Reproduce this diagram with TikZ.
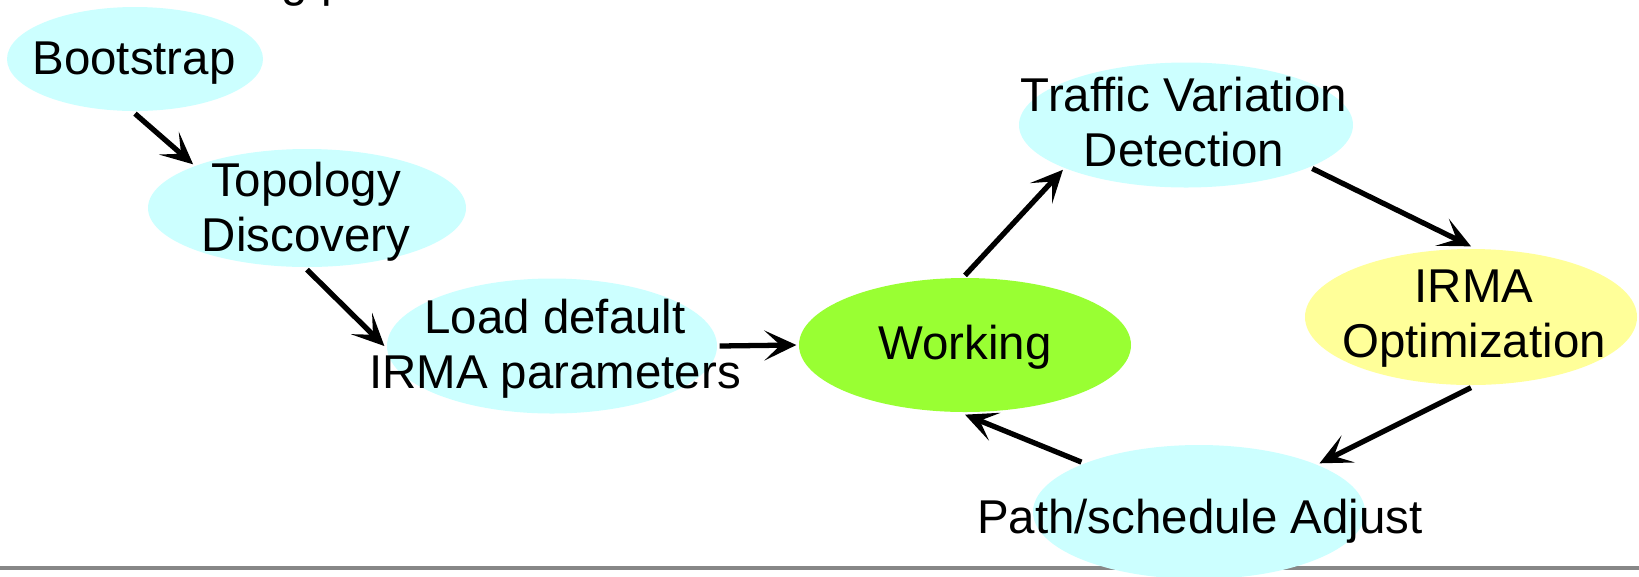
\documentclass[tikz,border=0pt]{standalone}
\usepackage{fontspec}
\setmainfont{Liberation Sans}
\usetikzlibrary{shapes,arrows.meta}
\definecolor{stcyan}{HTML}{CCFFFF}
\definecolor{stgreen}{HTML}{99FF33}
\definecolor{styellow}{HTML}{FFFF99}

\begin{document}
\begin{tikzpicture}[-, >={Stealth[length=3.2mm,width=3.0mm,inset=1.6mm]}, line width=1.5pt,
  blob/.style={ellipse, inner sep=0pt, fill=stcyan},
  txt/.style={align=center, inner sep=0pt, font=\fontsize{13.5}{15.7}\selectfont}]
\clip (0,0) rectangle (16.39,5.76);
\fill[white] (0,0) rectangle (16.39,5.76);
\draw[line width=0.045cm, color=black!47] (0,0.08) -- (16.39,0.08);
\node[txt, anchor=base west] (title) at (2.79,5.80) {g p};
% the states
\node[blob, minimum width=2.56cm, minimum height=1.04cm] (boot) at (1.35,5.17) {};
\node[blob, minimum width=3.18cm, minimum height=1.18cm] (topo) at (3.07,3.68) {};
\node[blob, minimum width=3.30cm, minimum height=1.35cm] (load) at (5.52,2.30) {};
\node[blob, minimum width=3.32cm, minimum height=1.34cm, fill=stgreen] (work) at (9.65,2.31) {};
\node[blob, minimum width=3.34cm, minimum height=1.25cm] (traf) at (11.86,4.51) {};
\node[blob, minimum width=3.32cm, minimum height=1.36cm, fill=styellow] (opt) at (14.71,2.59) {};
\node[blob, minimum width=3.32cm, minimum height=1.34cm] (adjust) at (11.99,0.64) {};
% their texts
\node[txt] (boottxt) at (1.34,5.13) {Bootstrap};
\node[txt] (topotxt) at (3.06,3.64) {Topology\\Discovery};
\node[txt] (loadtxt) at (5.55,2.27) {Load default\\IRMA parameters};
\node[txt] (worktxt) at (9.65,2.29) {Working};
\node[txt] (traftxt) at (11.84,4.54) {Traffic Variation\\Detection};
\node[txt] (opttxt) at (14.74,2.57) {IRMA\\Optimization};
\node[txt] (adjusttxt) at (12.00,0.55) {Path/schedule Adjust};
\path[->]
(boot.south) edge (topo.159)
(topo.south) edge (load.west)
(load.east) edge (work.west)
(work.north) edge (traf.200)
(traf.341) edge (opt.north)
(opt.south) edge (adjust.22)
(adjust.157) edge (work.south);
\end{tikzpicture}
\end{document}
